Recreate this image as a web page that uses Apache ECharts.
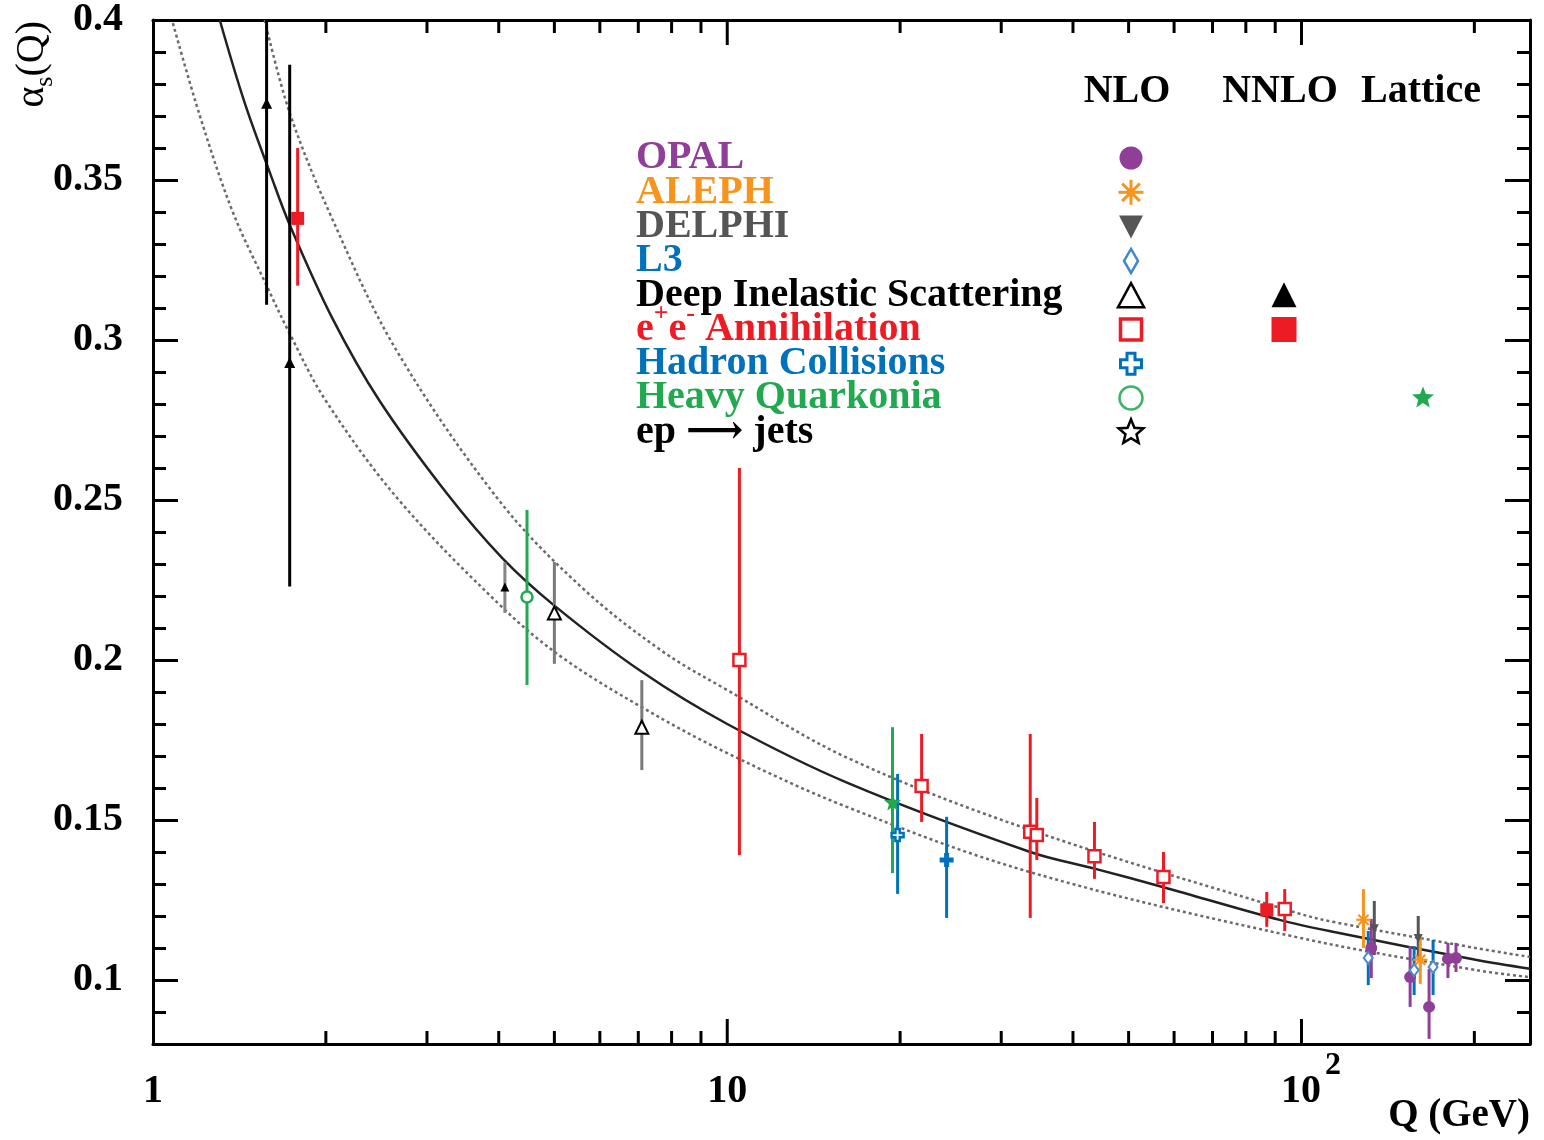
<!DOCTYPE html>
<html><head><meta charset="utf-8">
<script src="https://cdn.jsdelivr.net/npm/echarts@6.0.0/dist/echarts.min.js"></script>
<style>html,body{margin:0;padding:0;background:#fff}#c{width:1544px;height:1140px}</style>
</head><body><div id="c"></div>
<script>
// ---------------- axis ranges & ticks ----------------
const qRange = [1, 250];
const alphaRange = [0.08, 0.4];
const yMajorTicks = [0.1, 0.15, 0.2, 0.25, 0.3, 0.35, 0.4];
const xMajorTicks = [10, 100];
const xMinorTicks = [2, 3, 4, 5, 6, 7, 8, 9, 20, 30, 40, 50, 60, 70, 80, 90, 200];

// ---------------- running-coupling curves ----------------
const centralQ     = [1.307, 1.445, 1.6, 1.73, 2.05, 2.48, 3.25, 4.05, 5.0, 7.1, 10, 16.2, 33.7, 43.6, 57.5, 91.6, 114, 201, 250];
const centralAlpha = [0.400, 0.374, 0.352, 0.336, 0.307, 0.281, 0.252, 0.232, 0.217, 0.1963, 0.180, 0.1616, 0.140, 0.1348, 0.1290, 0.1188, 0.115, 0.1063, 0.1035];
const upperQ       = [1.565, 1.73, 2.05, 2.65, 4.0, 5.57, 7.67, 10, 16.2, 33.7, 98, 114, 201, 250];
const upperAlpha   = [0.400, 0.371, 0.338, 0.297, 0.250, 0.2228, 0.203, 0.1906, 0.1694, 0.1469, 0.121, 0.1181, 0.110, 0.1072];
const lowerQ       = [1.083, 1.207, 1.377, 1.577, 1.73, 2.0, 2.68, 4.05, 5.15, 7.09, 10, 16.2, 33.7, 98, 201, 250];
const lowerAlpha   = [0.399, 0.370, 0.340, 0.317, 0.302, 0.281, 0.250, 0.2166, 0.2009, 0.1853, 0.1709, 0.154, 0.1337, 0.1134, 0.1031, 0.1009];

// ---------------- measurements: [Q, alpha_s, err up, err down] ----------------
const opal      = [[132.3, 0.110, 0.0091, 0.0094], [154.6, 0.1009, 0.0097, 0.0093], [166.8, 0.0916, 0.0118, 0.0100], [179.9, 0.1066, 0.0050, 0.0060], [185.8, 0.1069, 0.0047, 0.0044]];
const aleph     = [[128.2, 0.1188, 0.0096, 0.0088], [161.0, 0.1063, 0.0071, 0.0075]];
const delphi    = [[133.9, 0.116, 0.0087, 0.0082], [159.7, 0.113, 0.0070, 0.0067]];
const l3        = [[130.7, 0.1069, 0.0084, 0.0085], [157.1, 0.1031, 0.0075, 0.0078], [169.5, 0.1041, 0.0084, 0.0088]];
const disNLO    = [[5.0, 0.2147, 0.0159, 0.0159], [7.1, 0.179, 0.0147, 0.0134]];
const disNNLO   = [[1.577, 0.374, 0.062, 0.063], [1.73, 0.293, 0.093, 0.070]];
const disNNLO2  = [[4.1, 0.2228, 0.0078, 0.0081]];
const eeNLO     = [[10.5, 0.200, 0.060, 0.061], [21.8, 0.1606, 0.0163, 0.0112], [33.7, 0.1463, 0.0306, 0.0269], [34.6, 0.1453, 0.0116, 0.0078], [43.6, 0.1387, 0.0107, 0.0071], [57.5, 0.1322, 0.0078, 0.0082], [93.5, 0.1222, 0.0062, 0.0069]];
const eeNNLO    = [[1.786, 0.338, 0.022, 0.021], [87.0, 0.1219, 0.0056, 0.0053]];
const hadronNLO = [[19.8, 0.1453, 0.0191, 0.0184]];
const hadronB   = [[24.1, 0.1375, 0.0135, 0.0181]];
const quarkonia = [[4.48, 0.2197, 0.0272, 0.0275]];
const lattice   = [[19.4, 0.1556, 0.0234, 0.0222]];

// ---------------- legend text ----------------
const legendLabels = ['OPAL', 'ALEPH', 'DELPHI', 'L3', 'Deep Inelastic Scattering', 'e+e- Annihilation', 'Hadron Collisions', 'Heavy Quarkonia', 'ep ⟶ jets'];
const legendHeaders = ['NLO', 'NNLO', 'Lattice'];

// ---------------- styles ----------------
const FONT = '"Liberation Serif", "Times New Roman", "DejaVu Serif", serif';
const C = { purple: '#8f3f97', orange: '#f7941d', delphi: '#555555', blue: '#0072bc', red: '#ed1c24', green: '#21a94f', black: '#000000', gray: '#858585' };

function polyPath(pts) { return 'path://' + pts.map((p, i) => (i ? 'L' : 'M') + p[0].toFixed(3) + ',' + p[1].toFixed(3)).join(' ') + ' Z'; }
function starPts(cx, cy, R, r) { const a = []; for (let i = 0; i < 10; i++) { const t = -Math.PI / 2 + i * Math.PI / 5, rr = i % 2 ? r : R; a.push([cx + rr * Math.cos(t), cy + rr * Math.sin(t)]); } return a; }
function plusPts(cx, cy, s, w) { const h = s / 2, t = w / 2; return [[cx - t, cy - h], [cx + t, cy - h], [cx + t, cy - t], [cx + h, cy - t], [cx + h, cy + t], [cx + t, cy + t], [cx + t, cy + h], [cx - t, cy + h], [cx - t, cy + t], [cx - h, cy + t], [cx - h, cy - t], [cx - t, cy - t]]; }
const plusBase = plusPts(0, 0, 10, 1.3);
const rot45 = plusBase.map(p => [(p[0] - p[1]) / Math.SQRT2, (p[0] + p[1]) / Math.SQRT2]);
const SYM = {
  plus: polyPath(plusPts(0, 0, 10, 3.6)),
  asterisk: polyPath(plusBase) + ' ' + polyPath(rot45).replace('path://', ''),
  star: polyPath(starPts(0, 0, 10, 4.2)),
  down: 'path://M0,0 L10,0 L5,9 Z'
};

// ---------------- series builders ----------------
function errorBars(points, color) {
  return {
    type: 'custom', xAxisIndex: 0, yAxisIndex: 0, z: 2, silent: true, data: points,
    encode: { x: 0, y: 1 },
    renderItem: (params, api) => {
      const q = api.value(0), a = api.value(1), up = api.value(2), dn = api.value(3);
      const hi = Math.min(a + up, alphaRange[1]), lo = Math.max(a - dn, alphaRange[0]);
      const p1 = api.coord([q, hi]), p2 = api.coord([q, lo]);
      return { type: 'line', shape: { x1: p1[0], y1: p1[1], x2: p2[0], y2: p2[1] }, style: { stroke: color, lineWidth: 3 } };
    }
  };
}
function markers(points, symbol, size, fill, stroke, bw, z) {
  return {
    type: 'scatter', xAxisIndex: 0, yAxisIndex: 0, z: z || 4, silent: true,
    data: points.map(p => [p[0], p[1]]), symbol: symbol, symbolSize: size,
    itemStyle: { color: fill, borderColor: stroke, borderWidth: bw, opacity: 1 }
  };
}
function curve(qs, as, color, type) {
  return {
    type: 'line', xAxisIndex: 0, yAxisIndex: 0, z: 1, silent: true, smooth: 0.35, symbol: 'none',
    data: qs.map((q, i) => [q, as[i]]),
    lineStyle: { color: color, width: 2.5, type: type }
  };
}
function xTicks(values, len) {
  return {
    type: 'custom', xAxisIndex: 0, yAxisIndex: 0, z: 5, silent: true,
    data: values.map(v => [v, alphaRange[0]]), encode: { x: 0, y: 1 },
    renderItem: (params, api) => {
      const v = api.value(0);
      const b = api.coord([v, alphaRange[0]]), t = api.coord([v, alphaRange[1]]);
      const st = { stroke: '#000', lineWidth: 3 };
      return { type: 'group', children: [
        { type: 'line', shape: { x1: b[0], y1: b[1], x2: b[0], y2: b[1] - len }, style: st },
        { type: 'line', shape: { x1: t[0], y1: t[1], x2: t[0], y2: t[1] + len }, style: st }
      ] };
    }
  };
}

// ---------------- legend graphics ----------------
const G = [];
const rowY0 = 158, rowStep = 34.3, colNLO = 1131, colNNLO = 1284, colLat = 1423;
const textColors = [C.purple, C.orange, C.delphi, C.blue, C.black, C.red, C.blue, C.green, C.black];
legendLabels.forEach((lab, i) => {
  const y = rowY0 + i * rowStep;
  if (lab.startsWith('e+e-')) {
    G.push({ type: 'text', x: 636, y: y - 4, z: 10, style: {
      text: '{t|e}{s|+}{t|e}{s|-}{t| Annihilation}', fill: textColors[i], align: 'left', verticalAlign: 'middle',
      rich: { t: { fontFamily: FONT, fontWeight: 'bold', fontSize: 40, lineHeight: 48, verticalAlign: 'bottom', fill: textColors[i] },
              s: { fontFamily: FONT, fontWeight: 'bold', fontSize: 26, lineHeight: 26, verticalAlign: 'top', fill: textColors[i] } } } });
  } else {
    G.push({ type: 'text', x: 636, y: y, z: 10, style: { text: lab, fill: textColors[i], fontFamily: FONT, fontWeight: 'bold', fontSize: 40, align: 'left', verticalAlign: 'middle' } });
  }
});
const hdrX = [1127, 1280, 1421];
legendHeaders.forEach((h, i) => G.push({ type: 'text', x: hdrX[i], y: 92, z: 10, style: { text: h, fill: '#000', fontFamily: FONT, fontWeight: 'bold', fontSize: 40, align: 'center', verticalAlign: 'middle' } }));

function ry(i) { return rowY0 + i * rowStep; }
// OPAL
G.push({ type: 'circle', z: 10, shape: { cx: colNLO, cy: ry(0), r: 11.5 }, style: { fill: C.purple } });
// ALEPH asterisk
(function () {
  const cx = colNLO, cy = ry(1), r = 12.5, st = { stroke: C.orange, lineWidth: 3 };
  for (let k = 0; k < 4; k++) { const t = k * Math.PI / 4; G.push({ type: 'line', z: 10, shape: { x1: cx - r * Math.cos(t), y1: cy - r * Math.sin(t), x2: cx + r * Math.cos(t), y2: cy + r * Math.sin(t) }, style: st }); }
  G.push({ type: 'rect', z: 10, shape: { x: cx - 4, y: cy - 4, width: 8, height: 8 }, style: { fill: C.orange } });
})();
// DELPHI down triangle
G.push({ type: 'polygon', z: 10, shape: { points: [[colNLO - 12, ry(2) - 11], [colNLO + 12, ry(2) - 11], [colNLO, ry(2) + 12]] }, style: { fill: C.delphi } });
// L3 open diamond
G.push({ type: 'polygon', z: 10, shape: { points: [[colNLO, ry(3) - 12], [colNLO + 7, ry(3)], [colNLO, ry(3) + 12], [colNLO - 7, ry(3)]] }, style: { fill: '#fff', stroke: '#3f88cf', lineWidth: 2.5 } });
// DIS open / filled triangles
G.push({ type: 'polygon', z: 10, shape: { points: [[colNLO, ry(4) - 12], [colNLO + 13, ry(4) + 12], [colNLO - 13, ry(4) + 12]] }, style: { fill: '#fff', stroke: '#000', lineWidth: 2.5 } });
G.push({ type: 'polygon', z: 10, shape: { points: [[colNNLO, ry(4) - 13], [colNNLO + 12.5, ry(4) + 12], [colNNLO - 12.5, ry(4) + 12]] }, style: { fill: '#000' } });
// e+e- open / filled squares
G.push({ type: 'rect', z: 10, shape: { x: colNLO - 10.5, y: ry(5) - 10.5, width: 21, height: 21 }, style: { fill: '#fff', stroke: C.red, lineWidth: 3.5 } });
G.push({ type: 'rect', z: 10, shape: { x: colNNLO - 12.5, y: ry(5) - 12.5, width: 25, height: 25 }, style: { fill: C.red } });
// Hadron open plus
G.push({ type: 'polygon', z: 10, shape: { points: plusPts(colNLO, ry(6), 21, 8) }, style: { fill: '#fff', stroke: C.blue, lineWidth: 3 } });
// Heavy quarkonia open circle, lattice star
G.push({ type: 'circle', z: 10, shape: { cx: colNLO, cy: ry(7), r: 11.5 }, style: { fill: '#fff', stroke: '#3cb462', lineWidth: 2.5 } });
G.push({ type: 'polygon', z: 10, shape: { points: starPts(colLat, ry(7), 11.5, 5) }, style: { fill: C.green } });
// ep -> jets open star
G.push({ type: 'polygon', z: 10, shape: { points: starPts(colNLO, ry(8), 13, 5.8) }, style: { fill: '#fff', stroke: '#000', lineWidth: 2.5 } });

// axis titles
G.push({ type: 'text', x: 35, y: 21, rotation: Math.PI / 2, z: 10, style: {
  text: '{a|α}{s|s}{a|(Q)}', align: 'right', verticalAlign: 'middle',
  rich: { a: { fontFamily: FONT, fontSize: 40, lineHeight: 46, verticalAlign: 'top', fill: '#000' },
          s: { fontFamily: FONT, fontSize: 26, lineHeight: 26, verticalAlign: 'bottom', fill: '#000' } } } });
G.push({ type: 'text', x: 1530, y: 1116, z: 10, style: { text: 'Q (GeV)', fill: '#000', fontFamily: FONT, fontWeight: 'bold', fontSize: 39, align: 'right', verticalAlign: 'middle' } });

// ---------------- option ----------------
const axisLine = { show: true, onZero: false, lineStyle: { color: '#000', width: 3 } };
const yCommon = { type: 'value', min: alphaRange[0], max: alphaRange[1], splitLine: { show: false } };
const option = {
  animation: false,
  backgroundColor: '#fff',
  grid: { left: 153, right: 14, top: 20, bottom: 96, containLabel: false },
  xAxis: [
    { type: 'log', logBase: 10, min: qRange[0], max: qRange[1], position: 'bottom', axisLine: axisLine,
      axisTick: { show: false }, splitLine: { show: false }, minorTick: { show: false },
      axisLabel: { show: true, margin: 6, showMaxLabel: false, showMinLabel: true,
        formatter: v => { const r = Math.round(v); if (r === 100) return '{h|10}{s|2}'; return '{n|' + r + '}'; },
        rich: {
          n: { fontFamily: FONT, fontWeight: 'bold', fontSize: 40, lineHeight: 62, verticalAlign: 'bottom', color: '#000' },
          h: { fontFamily: FONT, fontWeight: 'bold', fontSize: 40, lineHeight: 62, verticalAlign: 'bottom', color: '#000', padding: [0, 0, 0, 19] },
          s: { fontFamily: FONT, fontWeight: 'bold', fontSize: 32, lineHeight: 32, verticalAlign: 'top', color: '#000', padding: [0, 0, 0, 4] }
        } } },
    { type: 'log', logBase: 10, min: qRange[0], max: qRange[1], position: 'top', axisLine: axisLine,
      axisTick: { show: false }, axisLabel: { show: false }, splitLine: { show: false } }
  ],
  yAxis: [
    Object.assign({}, yCommon, { position: 'left', axisLine: axisLine,
      axisTick: { show: true, inside: true, length: 25, customValues: yMajorTicks, lineStyle: { color: '#000', width: 3 } },
      axisLabel: { show: true, customValues: yMajorTicks, margin: 30, color: '#000', fontFamily: FONT, fontWeight: 'bold', fontSize: 40 } }),
    Object.assign({}, yCommon, { position: 'left', interval: 0.01, axisLine: { show: false },
      axisTick: { show: true, inside: true, length: 13, lineStyle: { color: '#000', width: 3 } }, axisLabel: { show: false } }),
    Object.assign({}, yCommon, { position: 'right', axisLine: axisLine,
      axisTick: { show: true, inside: true, length: 25, customValues: yMajorTicks, lineStyle: { color: '#000', width: 3 } },
      axisLabel: { show: false } }),
    Object.assign({}, yCommon, { position: 'right', interval: 0.01, axisLine: { show: false },
      axisTick: { show: true, inside: true, length: 13, lineStyle: { color: '#000', width: 3 } }, axisLabel: { show: false } })
  ],
  graphic: G,
  series: [
    curve(upperQ, upperAlpha, '#6a6a6a', [3, 3]),
    curve(lowerQ, lowerAlpha, '#6a6a6a', [3, 3]),
    curve(centralQ, centralAlpha, '#222222', 'solid'),
    xTicks(xMajorTicks, 25),
    xTicks(xMinorTicks, 13),

    errorBars(disNNLO, C.black), errorBars(disNNLO2, C.gray), errorBars(disNLO, '#7a7a7a'),
    errorBars(eeNNLO, C.red), errorBars(eeNLO, C.red),
    errorBars(quarkonia, C.green), errorBars(lattice, C.green),
    errorBars(hadronNLO, C.blue), errorBars(hadronB, C.blue),
    errorBars(delphi, C.delphi), errorBars(aleph, C.orange), errorBars(opal, C.purple), errorBars(l3, C.blue),

    markers(delphi, SYM.down, 9, C.delphi, C.delphi, 0, 3),
    markers(disNNLO, 'triangle', 11, '#000', '#000', 0),
    markers(disNNLO2, 'triangle', 9, '#000', '#000', 0),
    markers(disNLO, 'triangle', 13, '#fff', '#000', 2),
    markers(eeNNLO, 'rect', 13, C.red, C.red, 0),
    markers(eeNLO, 'rect', 12, '#fff', C.red, 2.5),
    markers(quarkonia, 'circle', 11, '#fff', C.green, 2.5),
    markers(lattice, SYM.star, 17, C.green, C.green, 0),
    markers(hadronNLO, SYM.plus, 12, '#fff', C.blue, 2.5),
    markers(hadronB, SYM.plus, 14, C.blue, C.blue, 0),
    markers(opal, 'circle', 12, C.purple, C.purple, 0),
    markers(aleph, SYM.asterisk, 14, C.orange, C.orange, 0.5),
    markers(l3, 'diamond', [9, 12], '#fff', '#4a8ad0', 2)
  ]
};
const chart = echarts.init(document.getElementById('c'), null, { renderer: 'canvas' });
chart.setOption(option);
</script>
</body></html>
